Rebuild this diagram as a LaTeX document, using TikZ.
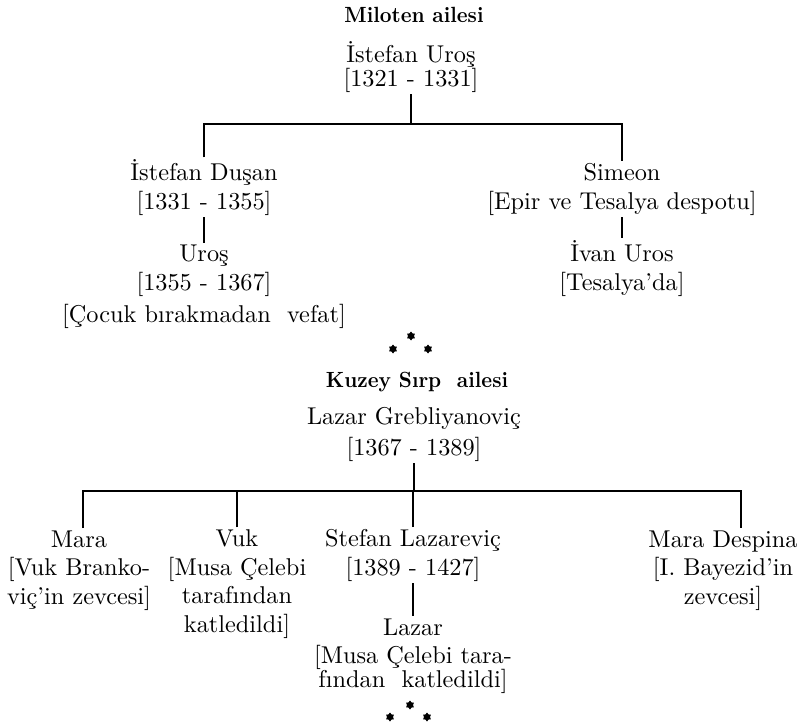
\documentclass[tikz,border=0pt]{standalone}
\usepackage{fontspec}
\setmainfont{lmroman10}[Extension=.otf,UprightFont=*-regular,BoldFont=*-bold]
\newfontfamily\baslikfont{lmroman10}[Extension=.otf,UprightFont=*-bold,FakeStretch=0.93]
\usepackage{tikz}
\usetikzlibrary{shapes.geometric}
\tikzset{
  kisi/.style={align=center,anchor=base,inner sep=2pt,font=\fontsize{24.3}{28.5}\selectfont},
  baslik/.style={anchor=base,inner sep=2pt,font=\fontsize{22}{24}\baslikfont},
  cizgi/.style={line width=1.4pt},
  yildiz/.style={star,star points=6,star point ratio=1.5,fill=black,inner sep=0pt,minimum size=9pt}
}

\begin{document}
\begin{tikzpicture}[x=1pt,y=-1pt]
\useasboundingbox (0,0) rectangle (798,723);
\node[baslik] (miloten) at (414,22) {Miloten ailesi};
\node[kisi] (uros1) at (411,86) {İstefan Uroş\\[-5pt]{}[1321 - 1331]};
\node[kisi] (dusan) at (204,209) {İstefan Duşan\\{}[1331 - 1355]};
\node[kisi] (uros2) at (204,322) {Uroş\\{}[1355 - 1367]\\[3.5pt]{}[Çocuk bırakmadan \ vefat]};
\node[kisi] (simeon) at (622,209) {Simeon\\{}[Epir ve Tesalya despotu]};
\node[kisi] (ivan) at (622,290) {İvan Uros\\{}[Tesalya’da]};
\coordinate (bar1) at (411,124);
\draw[cizgi] (uros1.south) -- (uros1.south |- bar1);
\draw[cizgi] (dusan.north) -- (dusan.north |- bar1) -- (simeon.north |- bar1) -- (simeon.north);
\draw[cizgi] (dusan.south) -- (uros2.north);
\draw[cizgi] (simeon.south) -- (ivan.north);
\node[yildiz] (y1) at (411,336) {};
\node[yildiz] (y2) at (393,349) {};
\node[yildiz] (y3) at (428,349) {};
\node[baslik] (kuzey) at (417,387) {Kuzey Sırp \ ailesi};
\node[kisi] (lazar1) at (414,455) {Lazar Grebliyanoviç\\[2.5pt]{}[1367 - 1389]};
\node[kisi] (mara) at (79,604) {Mara\\{}[Vuk Branko-\\viç’in zevcesi]};
\node[kisi] (vuk) at (237,632) {Vuk\\{}[Musa Çelebi\\tarafından\\katledildi]};
\node[kisi] (stefan) at (413,575) {Stefan Lazareviç\\{}[1389 - 1427]};
\node[kisi] (lazar2) at (413,687) {Lazar\\[-0.5pt]{}[Musa Çelebi tara-\\[-4.5pt]fından \ katledildi]};
\node[kisi] (despina) at (723,604) {Mara Despina\\{}[I. Bayezid’in\\zevcesi]};
\coordinate (bar2) at (411,491);
\draw[cizgi] (lazar1.south) -- (lazar1.south |- bar2);
\draw[cizgi] ([xshift=4pt]mara.north) -- ([xshift=4pt]mara.north |- bar2) -- ([xshift=18pt]despina.north |- bar2) -- ([xshift=18pt]despina.north);
\draw[cizgi] (vuk.north) -- (vuk.north |- bar2);
\draw[cizgi] (stefan.north) -- (stefan.north |- bar2);
\draw[cizgi] (stefan.south) -- (lazar2.north);
\node[yildiz] (y4) at (410,705) {};
\node[yildiz] (y5) at (390,717) {};
\node[yildiz] (y6) at (427,717) {};
\end{tikzpicture}
\end{document}
